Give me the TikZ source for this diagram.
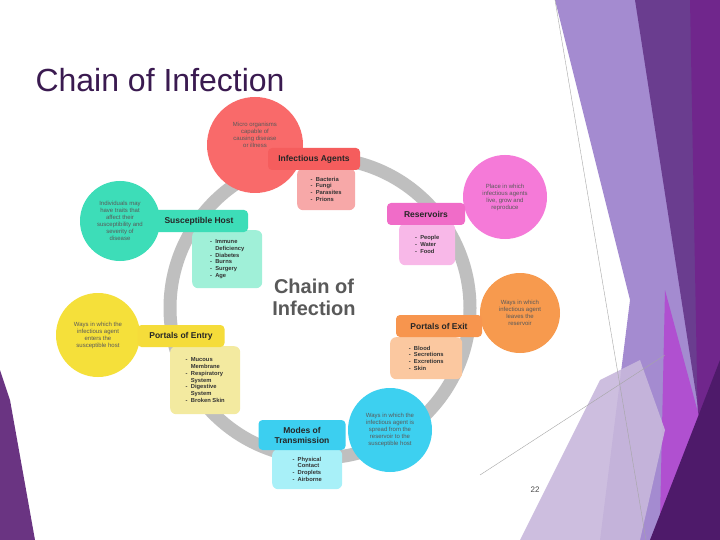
\documentclass[tikz,border=0pt]{standalone}
\usepackage{fontspec}
\setmainfont{Liberation Sans}
\begin{document}
\begin{tikzpicture}[x=1pt,y=-1pt,
  bubble/.style={circle,minimum size=#1,inner sep=0pt,align=center,font=\fontsize{6}{7}\selectfont,text=black!65},
  lab/.style={rounded corners=4pt,minimum height=22pt,inner sep=2pt,font=\fontsize{8.5}{10}\selectfont\bfseries,text=black!85,align=center},
  lst/.style={rounded corners=6pt,inner sep=3pt,anchor=north west,font=\fontsize{5.8}{6.8}\selectfont\bfseries,text=black!80,align=left}]
\useasboundingbox (0,0) rectangle (720,540);
\fill[white] (0,0) rectangle (720,540);
% decorations
\fill[color={rgb,255:red,164;green,139;blue,208}] (555,0)--(640,0)--(700,420)--(660,540)--(600,540)--(630,300)--cycle;
\fill[color={rgb,255:red,106;green,61;blue,143}] (635,0)--(720,0)--(720,540)--(690,540)--(700,420)--cycle;
\fill[color={rgb,255:red,112;green,38;blue,140}] (690,0)--(720,0)--(720,540)--(700,540)--cycle;
\fill[color={rgb,255:red,176;green,80;blue,208}] (665,290)--(700,420)--(690,480)--(660,520)--cycle;
\fill[color={rgb,255:red,200;green,184;blue,220},opacity=.9] (520,540)--(600,380)--(640,360)--(665,430)--(640,540)--cycle;
\fill[color={rgb,255:red,78;green,26;blue,106}] (650,540)--(720,360)--(720,540)--cycle;
\draw[gray!70,line width=.4pt] (555,0)--(646,540);
\draw[gray!70,line width=.4pt] (480,475)--(665,355);
\fill[color={rgb,255:red,106;green,52;blue,130}] (0,370)--(10,400)--(35,540)--(0,540)--cycle;
% title
\node[anchor=west,font=\fontsize{32}{36}\selectfont,text={rgb,255:red,58;green,26;blue,80}] (title) at (32,80) {Chain of Infection};
\node[font=\fontsize{8}{9}\selectfont,text=black!70] (pg) at (535,490) {22};
% ring
\node[circle,draw=black!25,line width=13pt,minimum size=300pt] (ring) at (320,308) {};
\node[align=center,font=\fontsize{20}{22}\selectfont\bfseries,text=black!65] (ctr) at (314,297) {Chain of\\Infection};
% Infectious agents
\node[lst,fill={rgb,255:red,247;green,168;blue,168},minimum width=58pt,minimum height=42pt] (ial) at (297,168) {-\ \ Bacteria\\-\ \ Fungi\\-\ \ Parasites\\-\ \ Prions};
\node[bubble=96pt,fill={rgb,255:red,249;green,106;blue,106}] (iac) at (255,145) {Micro organisms\\capable of\\causing disease\\or illness\\[14pt]};
\node[lab,fill={rgb,255:red,245;green,93;blue,93},minimum width=92pt] (ia) at (314,159) {Infectious Agents};
% Reservoirs
\node[lst,fill={rgb,255:red,248;green,184;blue,232},minimum width=56pt,minimum height=42pt] (rl) at (399,223) {-\ \ People\\-\ \ Water\\-\ \ Food};
\node[bubble=84pt,fill={rgb,255:red,245;green,122;blue,216}] (rc) at (505,197) {Place in which\\infectious agents\\live, grow and\\reproduce};
\node[lab,fill={rgb,255:red,240;green,108;blue,200},minimum width=78pt] (r) at (426,214) {Reservoirs};
% Susceptible host
\node[lst,fill={rgb,255:red,160;green,240;blue,216},minimum width=70pt,minimum height=58pt] (sl) at (192,230) {-\ \ Immune\\\phantom{-\ \ }Deficiency\\-\ \ Diabetes\\-\ \ Burns\\-\ \ Surgery\\-\ \ Age};
\node[bubble=80pt,fill={rgb,255:red,61;green,221;blue,184}] (sc) at (120,221) {Individuals may\\have traits that\\affect their\\susceptibility and\\severity of\\disease};
\node[lab,fill={rgb,255:red,61;green,221;blue,184},minimum width=98pt] (s) at (199,221) {Susceptible Host};
% Portals of Exit
\node[lst,fill={rgb,255:red,251;green,200;blue,160},minimum width=72pt,minimum height=42pt] (pxl) at (390,337) {-\ \ Blood\\-\ \ Secretions\\-\ \ Excretions\\-\ \ Skin};
\node[bubble=80pt,fill={rgb,255:red,247;green,154;blue,78}] (pxc) at (520,313) {Ways in which\\infectious agent\\leaves the\\reservoir};
\node[lab,fill={rgb,255:red,247;green,149;blue,78},minimum width=86pt] (px) at (439,326) {Portals of Exit};
% Portals of Entry
\node[lst,fill={rgb,255:red,243;green,234;blue,160},minimum width=70pt,minimum height=68pt] (pel) at (170,346) {-\ \ Mucous\\\phantom{-\ \ }Membrane\\-\ \ Respiratory\\\phantom{-\ \ }System\\-\ \ Digestive\\\phantom{-\ \ }System\\-\ \ Broken Skin};
\node[bubble=84pt,fill={rgb,255:red,245;green,224;blue,58}] (pec) at (98,335) {Ways in which the\\infectious agent\\enters the\\susceptible host};
\node[lab,fill={rgb,255:red,245;green,220;blue,58},minimum width=87pt] (pe) at (181,336) {Portals of Entry};
% Modes of transmission
\node[lst,fill={rgb,255:red,168;green,240;blue,248},minimum width=70pt,minimum height=40pt] (ml) at (272,449) {-\ \ Physical\\\phantom{-\ \ }Contact\\-\ \ Droplets\\-\ \ Airborne};
\node[bubble=84pt,fill={rgb,255:red,61;green,208;blue,240}] (mc) at (390,430) {Ways in which the\\infectious agent is\\spread from the\\reservoir to the\\susceptible host};
\node[lab,fill={rgb,255:red,60;green,207;blue,240},minimum width=87pt,minimum height=30pt] (m) at (302,435) {Modes of\\Transmission};
\end{tikzpicture}
\end{document}
